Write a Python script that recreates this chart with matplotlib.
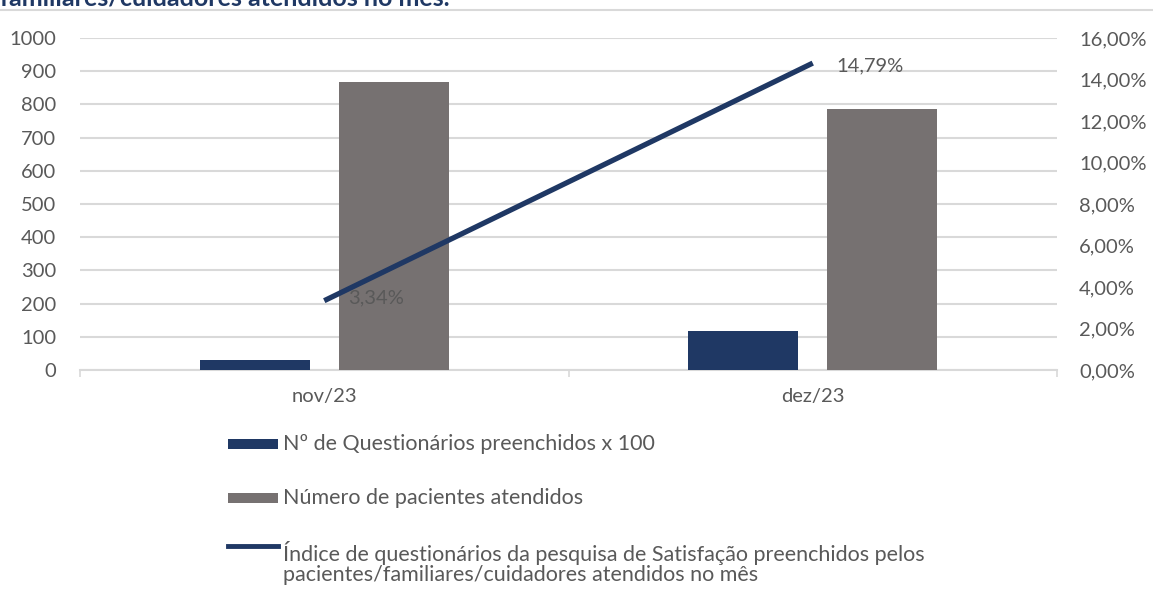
#!/usr/bin/env python3
"""Questionários de satisfação vs pacientes atendidos (nov/23 - dez/23)."""
import matplotlib
matplotlib.use("Agg")
import matplotlib.pyplot as plt
import numpy as np
from matplotlib.lines import Line2D
from matplotlib.patches import Rectangle

months = ["nov/23", "dez/23"]
questionarios = [29, 117]
pacientes = [866, 786]
indice = [3.34, 14.79]
indice_labels = ["3,34%", "14,79%"]
legend_labels = [
    "Nº de Questionários preenchidos x 100",
    "Número de pacientes atendidos",
    "Índice de questionários da pesquisa de Satisfação preenchidos pelos\n"
    "pacientes/familiares/cuidadores atendidos no mês",
]

NAVY = "#1f3864"
GRAY = "#767171"
TXT = "#595959"
GRID = "#d9d9d9"
W, H = 1153, 594

plt.rcParams["font.family"] = ["Lato", "DejaVu Sans"]

fig = plt.figure(figsize=(W / 100, H / 100), dpi=100)
ax = fig.add_axes([80 / W, 1 - 370 / H, 977 / W, 332 / H])
ax2 = ax.twinx()

x = np.arange(len(months))
w = 0.225
ax.bar(x - 0.142, questionarios, w, color=NAVY, zorder=3)
ax.bar(x + 0.142, pacientes, w, color=GRAY, zorder=3)

ax.set_xlim(-0.5, 1.5)
ax.set_ylim(0, 1000)
ax.set_yticks(range(0, 1001, 100))
ax.grid(axis="y", color=GRID, linewidth=1.5, zorder=0)
ax.set_xticks(x)
ax.set_xticklabels(months)
ax.set_xticks([-0.5, 0.5, 1.5], minor=True)
ax.tick_params(axis="x", which="major", length=0, pad=13, labelsize=14.5, labelcolor=TXT)
ax.tick_params(axis="x", which="minor", length=5, color=GRID, width=1.2)
ax.tick_params(axis="y", length=0, labelsize=14.5, labelcolor=TXT, pad=17)
for side in ["top", "left", "right"]:
    ax.spines[side].set_visible(False)
ax.spines["bottom"].set_color(GRID)
ax.spines["bottom"].set_linewidth(1.5)

ax2.plot(x, indice, color=NAVY, linewidth=3.8, solid_capstyle="butt", zorder=5)
for xi, yi, lab, dy in zip(x, indice, indice_labels, [2, -2]):
    ax2.annotate(lab, (xi, yi), xytext=(17, dy), textcoords="offset points",
                 fontsize=14.5, color=TXT, ha="left", va="center")
ax2.set_ylim(0, 16)
ax2.set_yticks(range(0, 17, 2))
ax2.set_yticklabels([f"{v},00%" for v in range(0, 17, 2)])
ax2.tick_params(axis="y", length=0, labelsize=14.5, labelcolor=TXT, pad=16)
for side in ["top", "left", "right", "bottom"]:
    ax2.spines[side].set_visible(False)

# cut-off title and chart border at the top
fig.text(0.0, 1 - 5 / H, "familiares/cuidadores atendidos no mês.", fontsize=18,
         fontweight="bold", color=NAVY, ha="left", va="baseline")
fig.add_artist(Line2D([0, 1], [1 - 10 / H] * 2, color=GRID, linewidth=1.5))

# legend below the plot, Excel style
def fx(px):
    return px / W


def fy(py):
    return 1 - py / H


for py, col in [(444, NAVY), (498, GRAY)]:
    fig.add_artist(Rectangle((fx(228), fy(py + 5)), 50 / W, 10 / H,
                             transform=fig.transFigure, facecolor=col, edgecolor="none"))
fig.add_artist(Line2D([fx(228), fx(278)], [fy(546)] * 2, color=NAVY, linewidth=3.5))
fig.text(fx(283), fy(444), legend_labels[0], fontsize=15.5, color=TXT, va="center")
fig.text(fx(283), fy(498), legend_labels[1], fontsize=15.5, color=TXT, va="center")
fig.text(fx(283), fy(563), legend_labels[2], fontsize=15.5, color=TXT, va="center",
         linespacing=1.05)

fig.savefig("out.png", dpi=100)
